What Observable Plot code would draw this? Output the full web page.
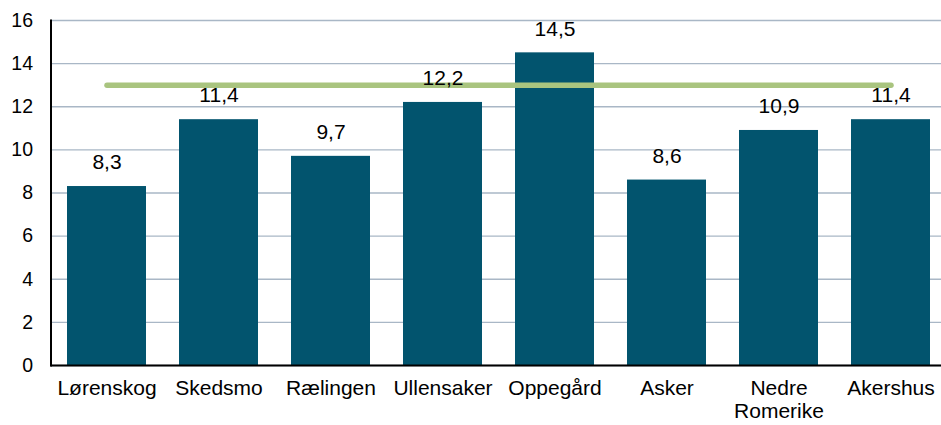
<!DOCTYPE html>
<html>
<head>
<meta charset="utf-8">
<script src="https://cdn.jsdelivr.net/npm/d3@7"></script>
<script src="https://cdn.jsdelivr.net/npm/@observablehq/plot@0.6"></script>
<style>
  html, body { margin: 0; padding: 0; background: #fff; }
  #chart svg { display: block; }
</style>
</head>
<body>
<div id="chart"></div>
<script>
const categories = ["Lørenskog", "Skedsmo", "Rælingen", "Ullensaker", "Oppegård", "Asker", "Nedre\nRomerike", "Akershus"];
const values = [8.3, 11.4, 9.7, 12.2, 14.5, 8.6, 10.9, 11.4];
const referenceValue = 13;
const yTicks = [0, 2, 4, 6, 8, 10, 12, 14, 16];

const data = categories.map((c, i) => ({category: c, value: values[i]}));
const refLine = [
  {category: categories[0], value: referenceValue},
  {category: categories[categories.length - 1], value: referenceValue}
];
const fmt = v => v.toFixed(1).replace(".", ",");

const chart = Plot.plot({
  width: 941,
  height: 425,
  marginLeft: 50.5,
  marginRight: 0,
  marginTop: 20,
  marginBottom: 60,
  style: {fontFamily: "Liberation Sans, Arial, sans-serif", color: "#000", background: "#fff"},
  x: {domain: categories, range: [50.5, 946.5], paddingInner: 0.295, paddingOuter: 0.1475, label: null},
  y: {domain: [0, 16], label: null},
  marks: [
    Plot.gridY(yTicks, {stroke: "#A9B7C6", strokeOpacity: 1, strokeWidth: 1.3}),
    Plot.barY(data, {x: "category", y: "value", fill: "#02546E"}),
    Plot.lineY(refLine, {x: "category", y: "value", stroke: "#A9C47F", strokeWidth: 5.5, strokeLinecap: "round"}),
    Plot.text(data, {x: "category", y: "value", text: d => fmt(d.value), dy: -24, fontSize: 21, fill: "#000"}),
    Plot.ruleY([0], {stroke: "#000", strokeWidth: 2}),
    Plot.frame({anchor: "left", stroke: "#000", strokeWidth: 2}),
    Plot.axisY(yTicks, {tickSize: 0, tickPadding: 18, fontSize: 19.5, label: null}),
    Plot.axisX({tickSize: 0, tickPadding: 13, fontSize: 21, label: null, lineHeight: 1.1})
  ]
});
document.getElementById("chart").appendChild(chart);
</script>
</body>
</html>
